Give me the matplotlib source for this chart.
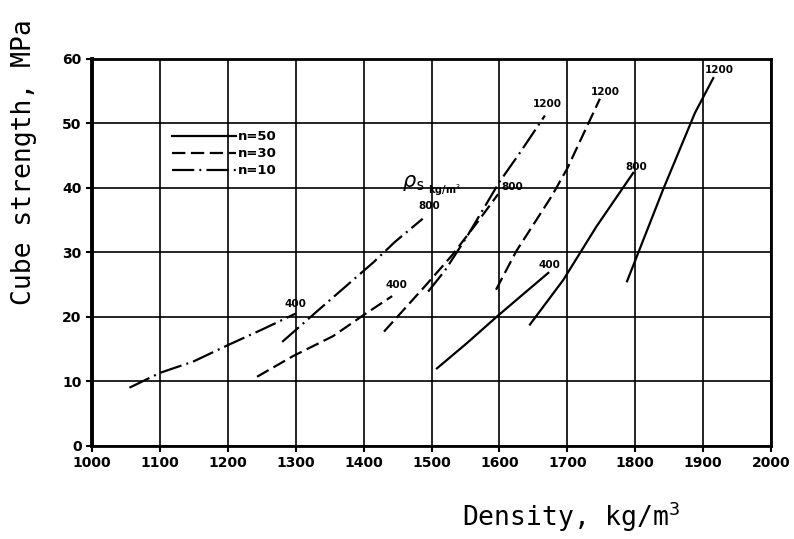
import matplotlib
matplotlib.use("Agg")
import matplotlib.pyplot as plt

# ---------------- data ----------------
# n = 50 (solid)
n50_400_x = [1508, 1552, 1596, 1635, 1672]
n50_400_y = [12.0, 15.9, 20.0, 23.5, 26.8]
n50_800_x = [1645, 1694, 1743, 1797]
n50_800_y = [18.8, 25.7, 34.0, 42.3]
n50_1200_x = [1788, 1841, 1888, 1915]
n50_1200_y = [25.5, 39.7, 51.6, 57.0]

# n = 30 (dashed)
n30_400_x = [1243, 1296, 1355, 1399, 1442]
n30_400_y = [10.7, 13.9, 17.0, 20.2, 23.2]
n30_800_x = [1430, 1460, 1490, 1530, 1570, 1598]
n30_800_y = [17.7, 21.2, 24.7, 29.5, 35.0, 39.0]
n30_1200_x = [1595, 1625, 1677, 1700, 1748]
n30_1200_y = [24.2, 30.2, 38.7, 43.0, 53.8]

# n = 10 (dash-dot)
n10_400_x = [1055, 1100, 1150, 1200, 1250, 1300]
n10_400_y = [9.0, 11.3, 13.1, 15.6, 18.0, 20.5]
n10_800_x = [1280, 1333, 1414, 1446, 1487]
n10_800_y = [16.1, 21.0, 28.4, 31.6, 35.2]
n10_1200_x = [1495, 1520, 1552, 1600, 1630, 1667]
n10_1200_y = [23.9, 27.2, 32.4, 40.9, 45.4, 51.2]

rho_labels = ["400", "800", "1200"]
series_labels = ["n=50", "n=30", "n=10"]
x_ticks = list(range(1000, 2001, 100))
y_ticks = list(range(0, 61, 10))

# ---------------- styling ----------------
plt.rcParams["mathtext.fontset"] = "custom"
plt.rcParams["mathtext.rm"] = "DejaVu Sans Mono"

lw = 1.6
styles = ["-", (0, (6, 2.5)), (0, (10, 2.3, 0.9, 2.3))]

curves = [
    [(n50_400_x, n50_400_y), (n50_800_x, n50_800_y), (n50_1200_x, n50_1200_y)],
    [(n30_400_x, n30_400_y), (n30_800_x, n30_800_y), (n30_1200_x, n30_1200_y)],
    [(n10_400_x, n10_400_y), (n10_800_x, n10_800_y), (n10_1200_x, n10_1200_y)],
]
# label offsets from curve end (points)
offsets = [
    [(1, 6), (2, 4), (4, 6)],
    [(3, 8), (10, 5), (4, 5)],
    [(0, 7), (5, 9), (2, 8)],
]

fig = plt.figure(figsize=(7.94, 5.39), dpi=100)
ax = fig.add_axes([0.116, 0.173, 0.855, 0.718])

for i, group in enumerate(curves):
    for j, (xs, ys) in enumerate(group):
        ax.plot(xs, ys, color="black", lw=lw, linestyle=styles[i],
                label=series_labels[i] if j == 0 else None)
        ax.annotate(rho_labels[j], xy=(xs[-1], ys[-1]), xytext=offsets[i][j],
                    textcoords="offset points", ha="center", va="center",
                    fontsize=7.5, fontweight="bold")

ax.text(1473, 40.7, r"$\rho_{\rm s}$", fontsize=15, ha="center", va="center")
ax.text(1495, 39.6, "kg/m$^3$", fontsize=7, fontweight="bold", ha="left", va="center")

ax.set_xlim(1000, 2000)
ax.set_ylim(0, 60)
ax.set_xticks(x_ticks)
ax.set_yticks(y_ticks)
ax.tick_params(direction="out", length=4, width=1.5, labelsize=10)
for lab in ax.get_xticklabels() + ax.get_yticklabels():
    lab.set_fontweight("bold")
ax.grid(True, color="black", lw=1.2)
for s in ax.spines.values():
    s.set_linewidth(2)
ax.spines["left"].set_linewidth(2.8)

leg = ax.legend(loc="upper left", bbox_to_anchor=(0.118, 0.815), frameon=False,
                handlelength=4.8, handletextpad=0.2, labelspacing=0.3,
                borderpad=0, borderaxespad=0, prop={"weight": "bold", "size": 9.5})

fig.text(0.030, 0.70, "Cube strength, MPa", rotation=90, ha="center", va="center",
         fontsize=19, family="DejaVu Sans Mono")
fig.text(0.720, 0.024, "Density, kg/m$^3$", ha="center", va="baseline",
         fontsize=19, family="DejaVu Sans Mono")

fig.savefig("out.png", dpi=100)
